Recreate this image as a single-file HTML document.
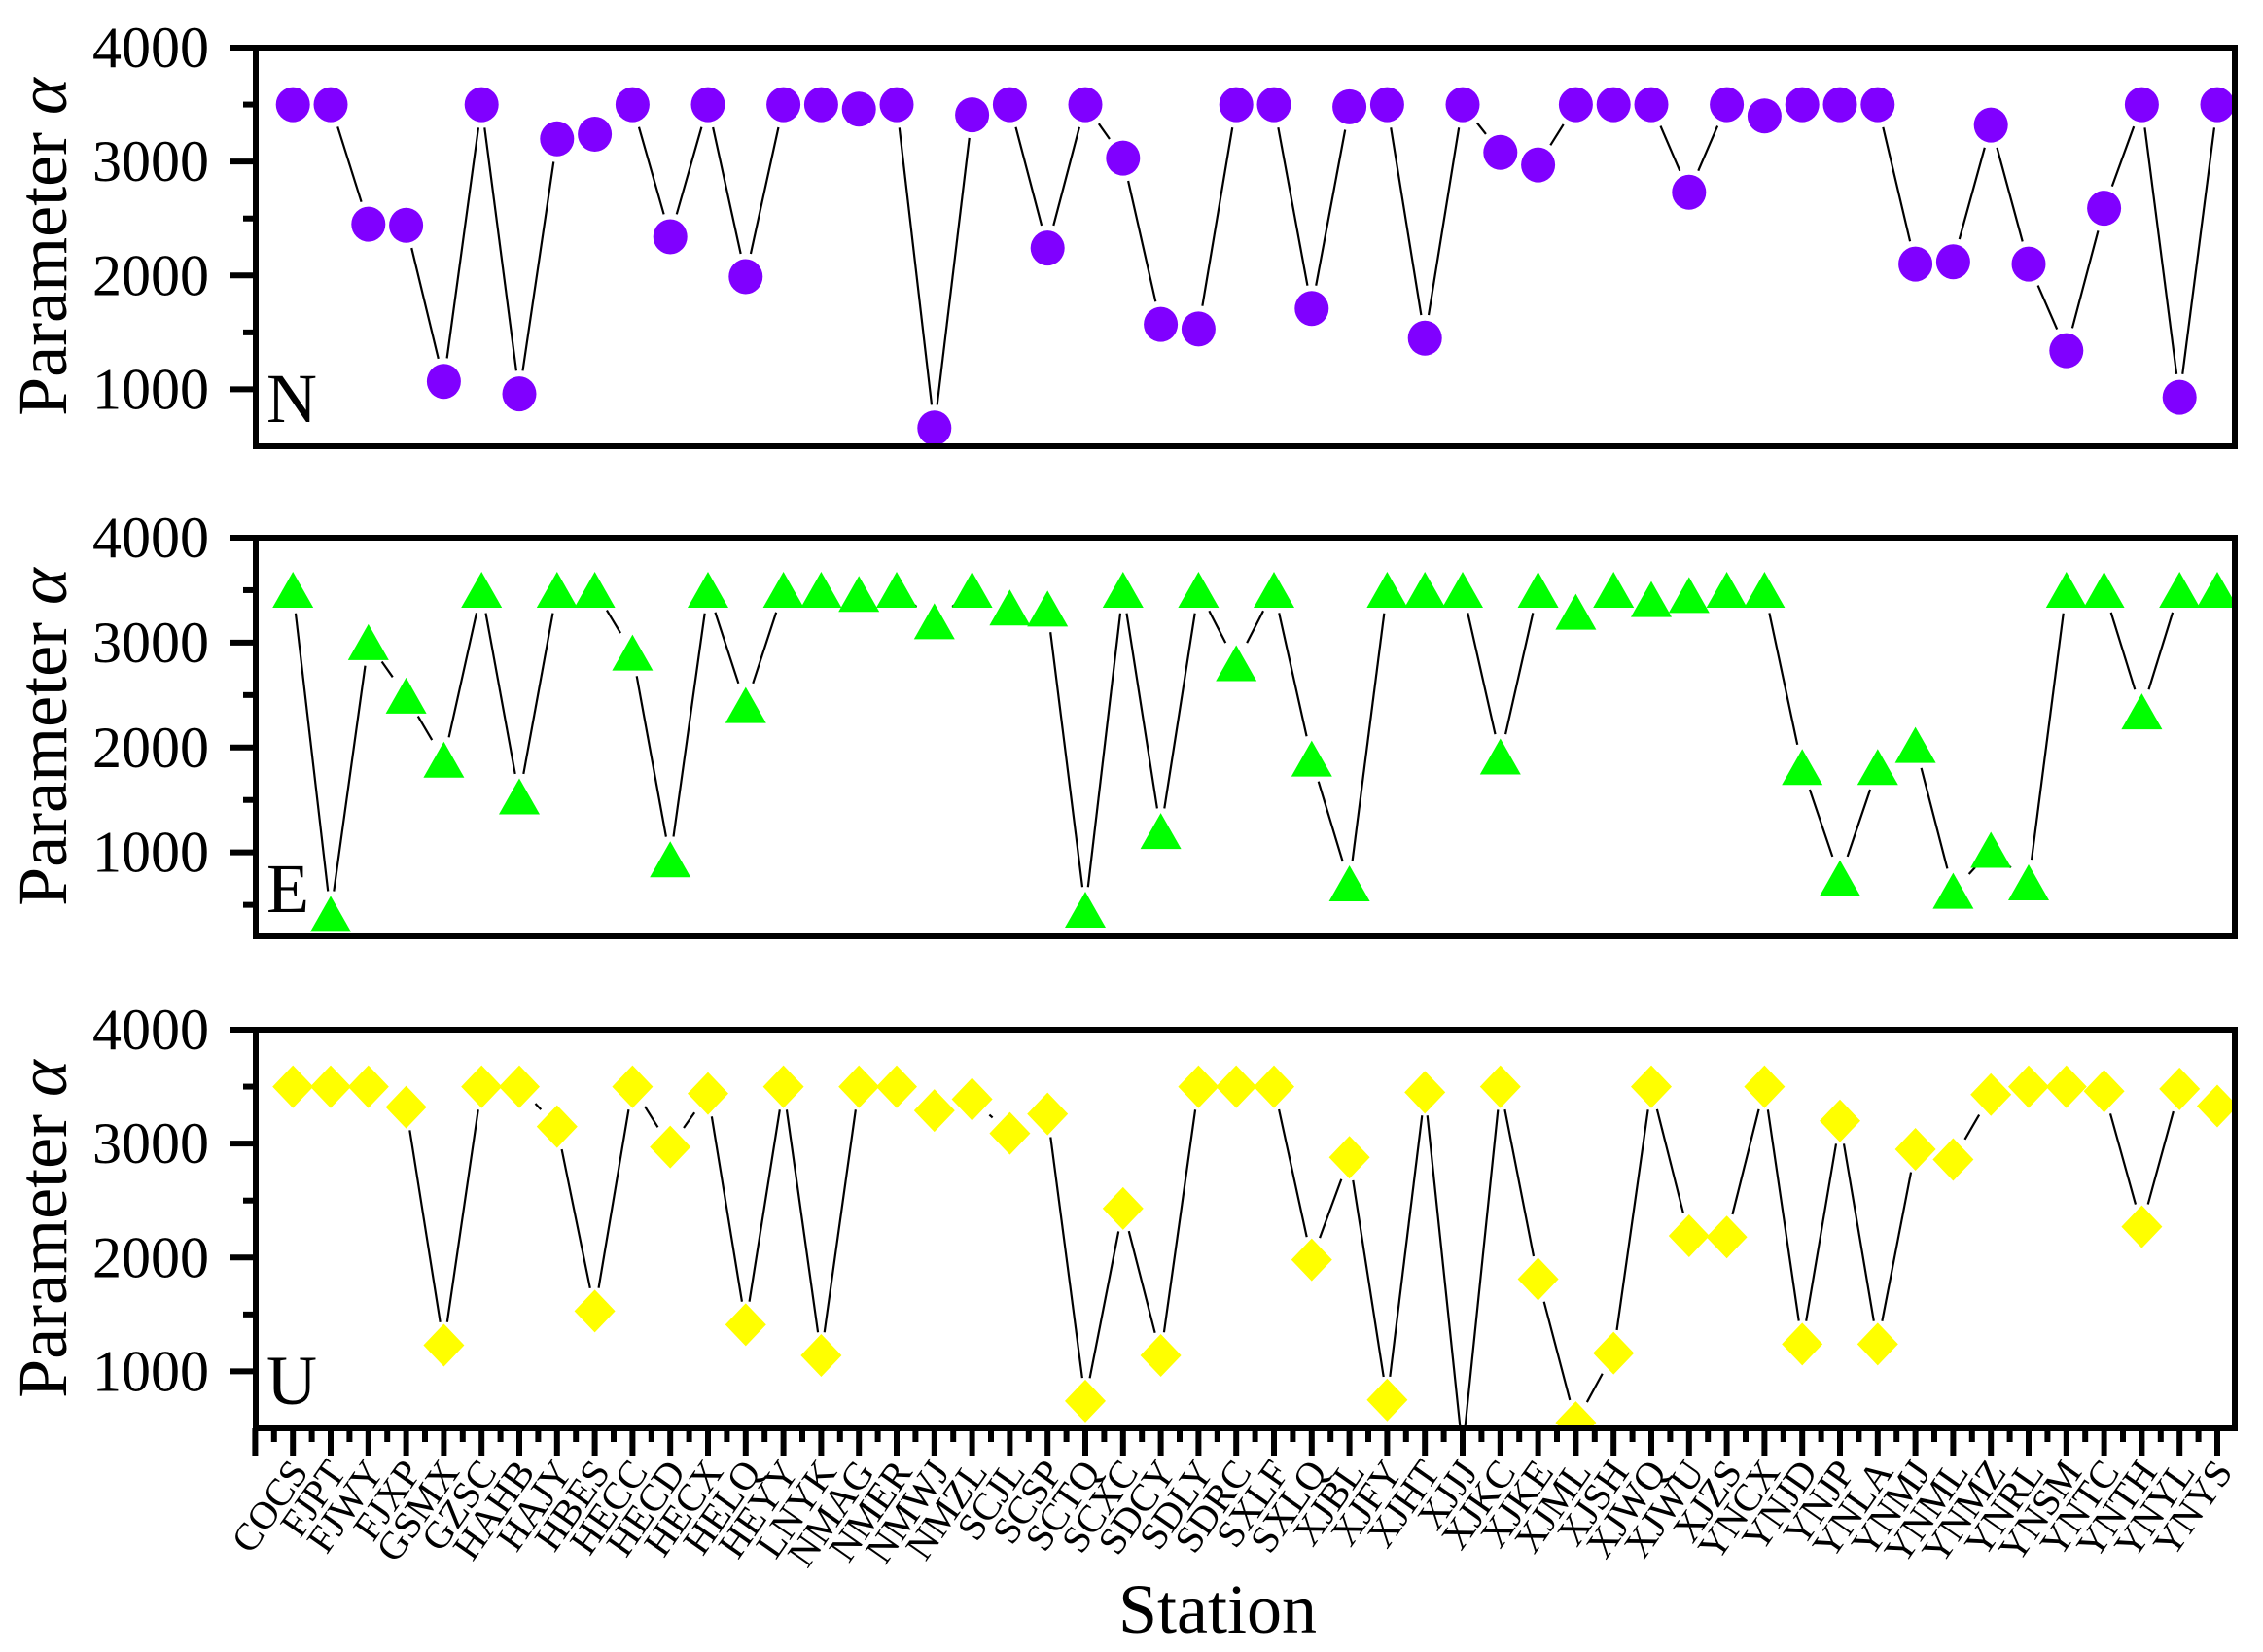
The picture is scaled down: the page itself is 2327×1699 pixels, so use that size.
<!DOCTYPE html>
<html><head><meta charset="utf-8"><style>
html,body{margin:0;padding:0;background:#fff;}
svg{display:block;font-family:"Liberation Serif",serif;}
</style></head><body>
<svg id="chart" width="2327" height="1699" viewBox="0 0 2327 1699" xmlns="http://www.w3.org/2000/svg"></svg>
<script>
const stations = ["COCS","FJPT","FJWY","FJXP","GSMX","GZSC","HAHB","HAJY","HBES","HECC","HECD","HECX","HELQ","HEYY","LNYK","NMAG","NMER","NMWJ","NMZL","SCJL","SCSP","SCTQ","SCXC","SDCY","SDLY","SDRC","SXLF","SXLQ","XJBL","XJFY","XJHT","XJJJ","XJKC","XJKE","XJML","XJSH","XJWQ","XJWU","XJZS","YNCX","YNJD","YNJP","YNLA","YNMJ","YNML","YNMZ","YNRL","YNSM","YNTC","YNTH","YNYL","YNYS"];
const valuesN = [3500,3500,2450,2440,1070,3500,960,3200,3240,3500,2340,3500,1990,3500,3500,3460,3500,660,3410,3500,2240,3500,3030,1570,1530,3500,3500,1710,3480,3500,1450,3500,3080,2970,3500,3500,3500,2730,3500,3400,3500,3500,3500,2100,2120,3320,2100,1340,2590,3500,930,3500];
const valuesE = [3500,410,3000,2490,1880,3500,1530,3500,3500,2900,930,3500,2400,3500,3500,3460,3500,3200,3500,3330,3320,450,3500,1200,3500,2800,3500,1890,700,3500,3500,3500,1910,3500,3290,3500,3410,3450,3500,3500,1810,750,1810,2020,630,1020,710,3500,3500,2340,3500,3500];
const valuesU = [3500,3500,3500,3320,1230,3500,3500,3150,1530,3500,2970,3440,1410,3500,1140,3500,3500,3290,3390,3090,3260,740,2430,1140,3500,3500,3500,1980,2880,750,3450,300,3500,1810,550,1160,3500,2190,2180,3500,1240,3200,1240,2950,2860,3430,3500,3500,3460,2270,3480,3330];
const yTicksMajor = [1000,2000,3000,4000];
const yTicksMinor = [500,1500,2500,3500];

const NS="http://www.w3.org/2000/svg";
const svg=document.getElementById('chart');
function mk(tag,attrs,parent){const e=document.createElementNS(NS,tag);for(const k in attrs)e.setAttribute(k,attrs[k]);(parent||svg).appendChild(e);return e;}
const X0=262.4, DX=38.8, LEFT=263, RIGHT=2298, H=410;
const xScale=i=>X0+DX*(i+1);
const panels=[
 {key:'n',top:49,min:500,max:4000,vals:valuesN,color:'#8000FF',shape:'circle',letter:'N'},
 {key:'e',top:553,min:200,max:4000,vals:valuesE,color:'#00FF00',shape:'triangle',letter:'E'},
 {key:'u',top:1059,min:500,max:4000,vals:valuesU,color:'#FFFF00',shape:'diamond',letter:'U'}
];
const defs=mk('defs',{});
panels.forEach((p,pi)=>{
  const yS=v=>p.top+H-(v-p.min)/(p.max-p.min)*H;
  const g=mk('g',{});
  
  
  const cp=mk('clipPath',{id:'clip'+pi},defs);
  mk('rect',{x:LEFT,y:p.top,width:RIGHT-LEFT,height:H},cp);
  const plot=mk('g',{'clip-path':'url(#clip'+pi+')'},g);
  const lg=mk('g',{stroke:'#000','stroke-width':2.2,fill:'none'},plot);
  
  
  const gap=24;
  for(let i=0;i<p.vals.length-1;i++){
    const x1=xScale(i),y1=yS(p.vals[i]),x2=xScale(i+1),y2=yS(p.vals[i+1]);
    const L=Math.hypot(x2-x1,y2-y1);
    if(L<=2*gap+2)continue;
    const ux=(x2-x1)/L,uy=(y2-y1)/L;
    mk('line',{x1:x1+ux*gap,y1:y1+uy*gap,x2:x2-ux*gap,y2:y2-uy*gap},lg);
  }
  const mg=mk('g',{fill:p.color},plot);
  p.vals.forEach((v,i)=>{
    const cx=xScale(i),cy=yS(v);let m;
    if(p.shape==='circle') m=mk('ellipse',{cx:cx,cy:cy,rx:17.5,ry:18},mg);
    else if(p.shape==='triangle') m=mk('polygon',{points:`${cx},${cy-19} ${cx+21},${cy+18} ${cx-21},${cy+18}`},mg);
    else m=mk('polygon',{points:`${cx},${cy-22} ${cx+21},${cy} ${cx},${cy+22} ${cx-21},${cy}`},mg);
    
    
  });
  const fr=mk('rect',{x:LEFT,y:p.top,width:RIGHT-LEFT,height:H,fill:'none',stroke:'#000','stroke-width':6},g);
  
  
  yTicksMajor.forEach(t=>{
    if(t<p.min||t>p.max)return;
    const y=yS(t);
    mk('line',{x1:LEFT-27,x2:LEFT,y1:y,y2:y,stroke:'#000','stroke-width':6},g);
    const tx=mk('text',{x:215,y:y+20,'text-anchor':'end','font-size':60},g);
    tx.textContent=t;
    
    
  });
  yTicksMinor.forEach(t=>{
    if(t<=p.min||t>p.max)return;
    const y=yS(t);
    mk('line',{x1:LEFT-13,x2:LEFT,y1:y,y2:y,stroke:'#000','stroke-width':6},g);
  });
  const lt=mk('text',{x:274,y:p.top+385,'font-size':72},g);
  lt.textContent=p.letter;
  
  
  const cy=p.top+H/2;
  const yt=mk('text',{x:0,y:0,'text-anchor':'middle','font-size':72,transform:`translate(68,${cy}) rotate(-90)`},g);
  yt.innerHTML='Parameter <tspan font-style="italic">α</tspan>';
  
  
  if(pi===2){
    const bot=p.top+H;
    const xg=mk('g',{},g);
    
    
    for(let k=0;k<=105;k++){
      const x=X0+DX*k/2; if(x>RIGHT+1)break;
      const major=k%2===0;
      mk('line',{x1:x,x2:x,y1:bot,y2:bot+(major?28:14),stroke:'#000','stroke-width':6},xg);
    }
    stations.forEach((s,i)=>{
      const x=xScale(i)+17,y=1514;
      const t=mk('text',{x:x,y:y,'text-anchor':'end','font-size':40,transform:`rotate(-55 ${x} ${y})`},xg);
      t.textContent=s;
      
      
    });
    const st=mk('text',{x:1252,y:1679,'text-anchor':'middle','font-size':72},xg);
    st.textContent='Station';
    
    
  }
});
</script>
</body></html>
